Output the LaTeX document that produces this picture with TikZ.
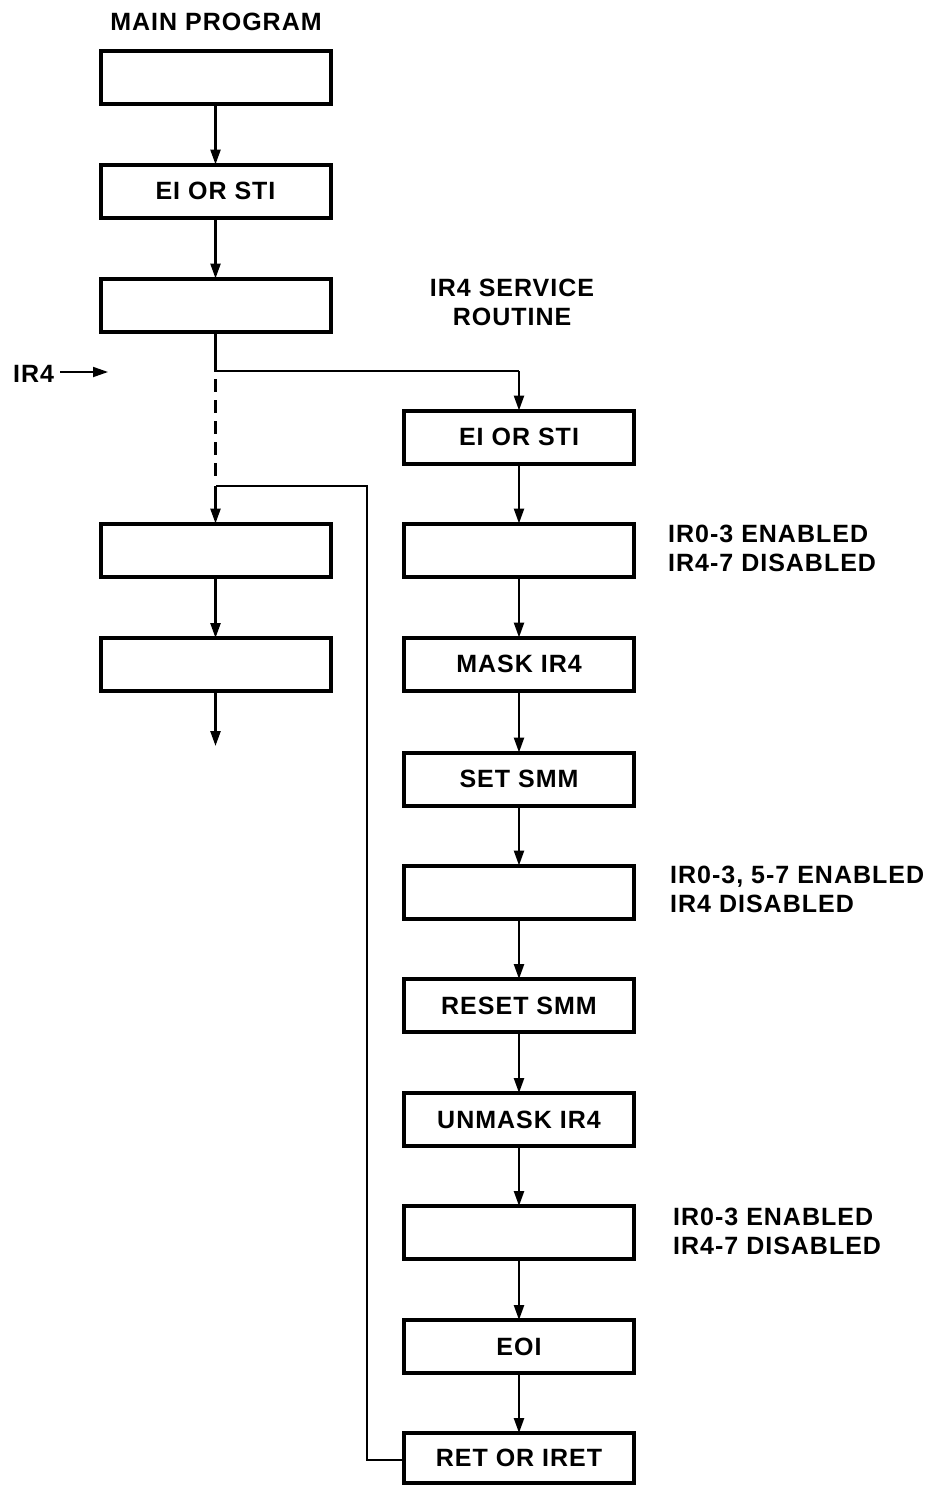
\documentclass[tikz,border=0pt]{standalone}
\usepackage{fontspec}
\setmainfont{Liberation Sans}[LetterSpace=4]
\usetikzlibrary{arrows.meta}
\begin{document}
\begin{tikzpicture}[x=1pt,y=-1pt,
  stepbox/.style={draw,line width=4pt,minimum width=230pt,minimum height=53pt,inner sep=0pt,outer sep=0pt,font=\fontsize{25}{28}\selectfont\bfseries},
  lbl/.style={font=\fontsize{25}{29}\selectfont\bfseries,inner sep=0pt,align=left},
  conn/.style={line width=2.4pt},
  arr/.style={line width=2.4pt,-{Triangle[width=10pt,length=15pt]}}]
\useasboundingbox (0,0) rectangle (932,1486);
% left column
\node[stepbox] (m1) at (215.5,77) {};
\node[stepbox] (m2) at (215.5,191) {EI OR STI};
\node[stepbox] (m3) at (215.5,305) {};
\node[stepbox] (m4) at (215.5,550) {};
\node[stepbox] (m5) at (215.5,664.5) {};
\coordinate (mend) at (215.5,746);
% right column
\node[stepbox] (r1) at (519,437) {EI OR STI};
\node[stepbox] (r2) at (519,550) {};
\node[stepbox] (r3) at (519,664) {MASK IR4};
\node[stepbox] (r4) at (519,779) {SET SMM};
\node[stepbox] (r5) at (519,892) {};
\node[stepbox] (r6) at (519,1005.5) {RESET SMM};
\node[stepbox] (r7) at (519,1119.5) {UNMASK IR4};
\node[stepbox] (r8) at (519,1232.5) {};
\node[stepbox] (r9) at (519,1346.5) {EOI};
\node[stepbox,minimum height=50pt] (r10) at (519,1458) {RET OR IRET};
% labels
\node[lbl] (tmain) at (216,22) {MAIN PROGRAM};
\node[lbl,align=center] (tserv) at (512,302) {IR4 SERVICE\\ROUTINE};
\node[lbl,anchor=west] (tir4) at (13,374) {IR4};
\coordinate (ir4a) at (60,372);
\coordinate (ir4b) at (108,372);
\node[lbl,anchor=west] (s1) at (668,548.5) {IR0-3 ENABLED\\IR4-7 DISABLED};
\node[lbl,anchor=west] (s2) at (670,889.5) {IR0-3, 5-7 ENABLED\\IR4 DISABLED};
\node[lbl,anchor=west] (s3) at (673,1231.5) {IR0-3 ENABLED\\IR4-7 DISABLED};
% connectors
\draw[arr] (m1) -- (m2);
\draw[arr] (m2) -- (m3);
\coordinate (split) at (215.5,371);
\draw[conn] (m3.south) -- (split) -- (519,371);
\draw[arr] (519,371) -- (r1.north);
\draw[conn,dash pattern=on 13pt off 8pt] (215.5,379) -- (215.5,476);
\draw[arr,line width=1.8pt] (ir4a) -- (ir4b);
\coordinate (retcorner) at (367,1460);
\draw[conn] (r10.west |- retcorner) -- (retcorner) -- (367,486) -- (215.5,486);
\draw[arr] (215.5,486) -- (m4.north);
\draw[arr] (m4) -- (m5);
\draw[arr] (m5) -- (mend);
\draw[arr] (r1) -- (r2);
\draw[arr] (r2) -- (r3);
\draw[arr] (r3) -- (r4);
\draw[arr] (r4) -- (r5);
\draw[arr] (r5) -- (r6);
\draw[arr] (r6) -- (r7);
\draw[arr] (r7) -- (r8);
\draw[arr] (r8) -- (r9);
\draw[arr] (r9) -- (r10);
\end{tikzpicture}
\end{document}
